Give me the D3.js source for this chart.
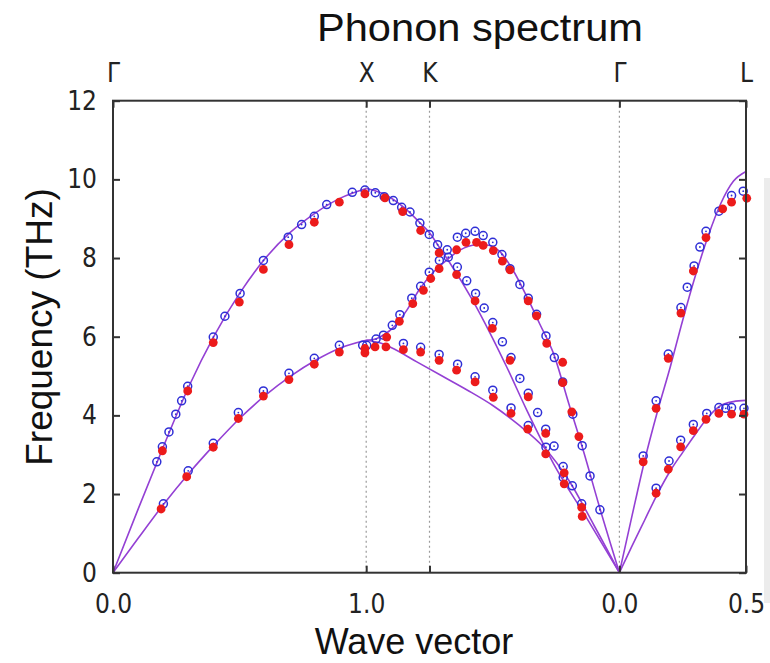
<!DOCTYPE html>
<html>
<head>
<meta charset="utf-8">
<script src="https://cdn.jsdelivr.net/npm/d3@7"></script>
<style>
  body { margin: 0; background: #fff; }
  svg { display: block; }
</style>
</head>
<body>
<div id="chart"></div>
<script>
// symmetry points along the path and their labels
const pathQ = [0, 1.0, 1.25, 2.0, 2.5];
const pathLabels = ["Γ", "X", "K", "Γ", "L"];
const qTickLabels = ["0.0", "1.0", "", "0.0", "0.5"];
const freqTicks = [0, 2, 4, 6, 8, 10, 12];

// calculated branches (THz)
const qGX = [0, 0.1, 0.2, 0.3, 0.4, 0.5, 0.6, 0.7, 0.8, 0.9, 1.0];
const fGX_LA = [0, 1.63, 3.22, 4.74, 6.03, 7.10, 7.98, 8.65, 9.15, 9.53, 9.77];
const fGX_TA = [0, 0.88, 1.74, 2.53, 3.25, 3.92, 4.50, 4.99, 5.40, 5.72, 5.91];

const qXG_A = [1.0, 1.07, 1.15, 1.21, 1.25, 1.29, 1.33, 1.42, 1.49, 1.555, 1.635, 1.75, 1.87, 2.0];
const fXG_A = [9.77, 9.63, 9.28, 8.91, 8.64, 8.26, 7.88, 6.93, 6.08, 5.23, 4.12, 2.65, 1.40, 0];
const qXG_B = [1.0, 1.04, 1.07, 1.11, 1.16, 1.21, 1.265, 1.32, 1.37, 1.435, 1.475, 1.53, 1.58, 1.635, 1.685, 1.74, 1.80, 1.86, 1.92, 2.0];
const fXG_B = [5.91, 5.95, 6.05, 6.25, 6.67, 7.20, 7.64, 7.96, 8.20, 8.33, 8.33, 8.15, 7.69, 7.01, 6.33, 5.57, 4.30, 3.05, 1.70, 0];
const qXG_C = [1.0, 1.05, 1.1, 1.2, 1.3, 1.4, 1.5, 1.6, 1.7, 1.8, 1.9, 2.0];
const fXG_C = [5.91, 5.85, 5.72, 5.36, 5.00, 4.64, 4.25, 3.77, 3.20, 2.35, 1.20, 0];

const qGL = [2.0, 2.05, 2.1, 2.15, 2.2, 2.25, 2.3, 2.35, 2.4, 2.45, 2.5];
const fGL_LA = [0, 1.45, 2.86, 4.09, 5.21, 6.42, 7.55, 8.55, 9.38, 9.95, 10.2];
const fGL_TA = [0, 0.68, 1.34, 2.00, 2.58, 3.06, 3.52, 3.95, 4.25, 4.35, 4.38];

// measured points, blue open circles  [q, THz]
const blueGX = [[0.173,2.82],[0.195,3.20],[0.221,3.58],[0.248,4.03],[0.271,4.37],[0.295,4.74],[0.396,5.99],[0.442,6.52],[0.502,7.10],[0.594,7.94],[0.692,8.53],[0.745,8.85],[0.795,9.06],[0.844,9.36],[0.945,9.67],[0.995,9.73],
  [0.199,1.75],[0.297,2.59],[0.396,3.29],[0.495,4.07],[0.594,4.62],[0.695,5.07],[0.795,5.45],[0.894,5.78],[0.986,5.78],[1.002,5.78]];
const blueXG = [[1.036,9.66],[1.071,9.56],[1.107,9.46],[1.140,9.29],[1.173,9.17],[1.212,8.89],[1.249,8.60],[1.282,8.34],[1.324,8.02],[1.360,7.77],[1.397,7.42],[1.432,7.10],[1.466,6.73],[1.500,6.36],[1.538,5.87],[1.572,5.47],[1.607,4.94],[1.640,4.56],[1.677,4.07],[1.709,3.65],[1.742,3.22],[1.778,2.70],[1.814,2.21],[1.851,1.75],
  [1.039,5.94],[1.068,6.04],[1.103,6.29],[1.133,6.56],[1.180,6.98],[1.215,7.28],[1.249,7.64],[1.289,7.94],[1.320,8.21],[1.360,8.53],[1.393,8.63],[1.430,8.68],[1.462,8.57],[1.500,8.40],[1.536,8.09],[1.568,7.73],[1.607,7.33],[1.640,6.98],[1.673,6.57],[1.710,6.02],[1.743,5.47],[1.776,4.85],[1.816,4.03],[1.853,3.23],[1.884,2.46],[1.923,1.60],
  [1.147,5.83],[1.215,5.73],[1.288,5.55],[1.361,5.30],[1.430,4.98],[1.500,4.64],[1.572,4.19],[1.640,3.74],[1.710,3.19],[1.778,2.42]];
const blueGL = [[2.094,2.97],[2.145,4.37],[2.193,5.56],[2.243,6.74],[2.268,7.26],[2.295,7.80],[2.318,8.28],[2.342,8.68],[2.393,9.19],[2.443,9.59],[2.489,9.70],
  [2.145,2.15],[2.196,2.84],[2.242,3.37],[2.292,3.77],[2.345,4.05],[2.393,4.20],[2.420,4.18],[2.443,4.20],[2.492,4.18]];

// measured points, red filled dots
const redGX = [[0.195,3.10],[0.295,4.62],[0.396,5.85],[0.499,6.88],[0.594,7.71],[0.695,8.34],[0.795,8.91],[0.894,9.42],[0.995,9.63],
  [0.190,1.62],[0.291,2.44],[0.396,3.19],[0.495,3.92],[0.594,4.49],[0.695,4.91],[0.795,5.30],[0.894,5.61],[0.995,5.70],[0.995,5.59]];
const redXG = [[1.074,9.53],[1.144,9.18],[1.215,8.70],[1.288,8.13],[1.357,7.58],[1.430,6.91],[1.498,6.21],[1.568,5.40],[1.640,4.47],[1.709,3.54],[1.782,2.54],[1.851,1.66],
  [1.081,5.99],[1.131,6.39],[1.184,6.84],[1.226,7.18],[1.255,7.48],[1.288,7.73],[1.357,8.21],[1.394,8.40],[1.436,8.40],[1.462,8.32],[1.502,8.19],[1.538,7.92],[1.568,7.70],[1.640,6.91],[1.673,6.53],[1.713,5.83],[1.776,5.35],[1.776,4.83],[1.812,4.09],[1.840,3.46],
  [1.035,5.74],[1.078,5.74],[1.147,5.67],[1.215,5.61],[1.288,5.40],[1.357,5.15],[1.430,4.85],[1.502,4.46],[1.572,4.05],[1.638,3.65],[1.709,3.02],[1.782,2.26],[1.853,1.43]];
const redGL = [[2.094,2.82],[2.145,4.18],[2.193,5.45],[2.243,6.60],[2.292,7.67],[2.342,8.52],[2.408,9.25],[2.443,9.42],[2.503,9.52],
  [2.145,2.02],[2.193,2.63],[2.242,3.20],[2.292,3.61],[2.342,3.90],[2.393,4.05],[2.443,4.03],[2.492,4.03]];

const width = 770, height = 663;
const narrow = "'Liberation Sans Narrow', 'DejaVu Sans Condensed', 'Liberation Sans', sans-serif";
const sans = "'Liberation Sans', Arial, sans-serif";

const svg = d3.select("#chart").append("svg")
  .attr("width", width)
  .attr("height", height);

const x = d3.scaleLinear().domain([0, 2.5]).range([113, 746]);
const y = d3.scaleLinear().domain([0, 12]).range([572.7, 100.7]);

// scan artifact strip on the right edge
svg.append("rect")
  .attr("x", 764).attr("y", 178)
  .attr("width", 6).attr("height", 425)
  .attr("fill", "#ececec");

// dotted lines at the inner symmetry points
svg.selectAll(".vline")
  .data(pathQ.slice(1, 4))
  .enter()
  .append("line")
  .attr("x1", d => x(d)).attr("x2", d => x(d))
  .attr("y1", y(12)).attr("y2", y(0))
  .attr("stroke", "#9a9a9a")
  .attr("stroke-width", 1.2)
  .attr("stroke-dasharray", "2,3");

// branches
const branches = [
  [qGX, fGX_LA], [qGX, fGX_TA],
  [qXG_A, fXG_A], [qXG_B, fXG_B], [qXG_C, fXG_C],
  [qGL, fGL_LA], [qGL, fGL_TA]
];
const line = d3.line()
  .x(d => x(d[0]))
  .y(d => y(d[1]))
  .curve(d3.curveMonotoneX);

svg.selectAll(".branch")
  .data(branches.map(b => b[0].map((q, i) => [q, b[1][i]])))
  .enter()
  .append("path")
  .attr("fill", "none")
  .attr("stroke", "#9440d4")
  .attr("stroke-width", 1.6)
  .attr("d", line);

// blue open circles with centre dot
const blue = blueGX.concat(blueXG, blueGL);
const bg = svg.append("g");
bg.selectAll("circle.ring")
  .data(blue)
  .enter()
  .append("circle")
  .attr("cx", d => x(d[0]))
  .attr("cy", d => y(d[1]))
  .attr("r", 4)
  .attr("fill", "none")
  .attr("stroke", "#2f2fd6")
  .attr("stroke-width", 1.5);
bg.selectAll("circle.dot")
  .data(blue)
  .enter()
  .append("circle")
  .attr("cx", d => x(d[0]))
  .attr("cy", d => y(d[1]))
  .attr("r", 0.9)
  .attr("fill", "#2f2fd6");

// red filled dots
svg.append("g").selectAll("circle")
  .data(redGX.concat(redXG, redGL))
  .enter()
  .append("circle")
  .attr("cx", d => x(d[0]))
  .attr("cy", d => y(d[1]))
  .attr("r", 4.4)
  .attr("fill", "#ec1b1b");

// frame
svg.append("rect")
  .attr("x", x(0)).attr("y", y(12))
  .attr("width", x(2.5) - x(0))
  .attr("height", y(0) - y(12))
  .attr("fill", "none")
  .attr("stroke", "#333")
  .attr("stroke-width", 2);

// axes, gnuplot style ticks pointing inward
function styleAxis(g, size) {
  g.select(".domain").remove();
  g.selectAll(".tick line").attr("stroke", "#333").attr("stroke-width", 2);
  g.selectAll(".tick text")
    .attr("fill", "#222")
    .attr("font-family", narrow)
    .attr("font-size", size);
}

svg.append("g")
  .attr("transform", `translate(${x(0)},0)`)
  .call(d3.axisLeft(y).tickValues(freqTicks).tickSize(-7).tickPadding(16).tickFormat(d3.format("d")))
  .call(g => styleAxis(g, "26px"));

svg.append("g")
  .attr("transform", `translate(${x(2.5)},0)`)
  .call(d3.axisRight(y).tickValues(freqTicks).tickSize(-7).tickFormat(""))
  .call(g => styleAxis(g, "26px"));

svg.append("g")
  .attr("transform", `translate(0,${y(0)})`)
  .call(d3.axisBottom(x).tickValues(pathQ).tickSize(-7).tickPadding(22).tickFormat((d, i) => qTickLabels[i]))
  .call(g => styleAxis(g, "26px"));

svg.append("g")
  .attr("transform", `translate(0,${y(12)})`)
  .call(d3.axisTop(x).tickValues(pathQ).tickSize(-7).tickPadding(19).tickFormat((d, i) => pathLabels[i]))
  .call(g => styleAxis(g, "26px"));

// title
svg.append("text")
  .attr("x", 480)
  .attr("y", 41)
  .attr("text-anchor", "middle")
  .attr("font-family", sans)
  .attr("font-size", "39px")
  .attr("textLength", 326)
  .attr("lengthAdjust", "spacingAndGlyphs")
  .attr("fill", "#111")
  .text("Phonon spectrum");

// y label
svg.append("text")
  .attr("transform", "translate(52,327) rotate(-90)")
  .attr("text-anchor", "middle")
  .attr("font-family", sans)
  .attr("font-size", "37px")
  .attr("fill", "#111")
  .text("Frequency (THz)");

// x label
svg.append("text")
  .attr("x", 414)
  .attr("y", 654)
  .attr("text-anchor", "middle")
  .attr("font-family", sans)
  .attr("font-size", "36px")
  .attr("fill", "#111")
  .text("Wave vector");
</script>
</body>
</html>
